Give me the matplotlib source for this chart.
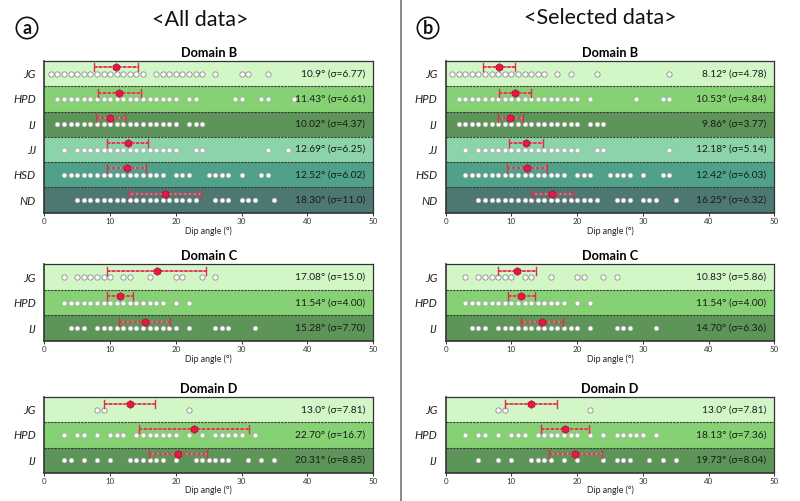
import matplotlib
matplotlib.use("Agg")
import matplotlib.pyplot as plt
import numpy as np

plt.rcParams['font.family'] = ['Lato', 'DejaVu Sans']

# ---------------- data ----------------
rows_B = ["JG", "HPD", "IJ", "JJ", "HSD", "ND"]
rows_CD = ["JG", "HPD", "IJ"]

# Domain B - all data
B_all_JG = list(range(1, 16)) + list(range(17, 25)) + [26, 30, 31, 34]
B_all_HPD = list(range(2, 21)) + [22, 23, 29, 30, 33, 34, 38]
B_all_IJ = list(range(2, 21)) + [22, 23, 24]
B_all_JJ = [3] + list(range(5, 21)) + [23, 24, 34, 37]
B_all_HSD = list(range(3, 19)) + [20, 21, 22, 25, 26, 27, 28, 30, 33, 34]
B_all_ND = list(range(5, 24)) + [26, 27, 28, 30, 31, 32, 35]
B_all_mean = [10.9, 11.43, 10.02, 12.69, 12.52, 18.30]
B_all_sigma = [6.77, 6.61, 4.37, 6.25, 6.02, 11.0]
B_all_text = ["10.9° (σ=6.77)", "11.43° (σ=6.61)", "10.02° (σ=4.37)",
              "12.69° (σ=6.25)", "12.52° (σ=6.02)", "18.30° (σ=11.0)"]

# Domain B - selected data
B_sel_JG = list(range(1, 16)) + [17, 19, 23, 34]
B_sel_HPD = list(range(2, 21)) + [22, 29, 33, 34]
B_sel_IJ = list(range(2, 21)) + [22, 23, 24]
B_sel_JJ = [3] + list(range(5, 21)) + [23, 24, 34]
B_sel_HSD = list(range(3, 19)) + [20, 21, 22, 25, 26, 27, 28, 30, 33, 34]
B_sel_ND = list(range(5, 24)) + [26, 27, 28, 30, 31, 32, 35]
B_sel_mean = [8.12, 10.53, 9.86, 12.18, 12.42, 16.25]
B_sel_sigma = [4.78, 4.84, 3.77, 5.14, 6.03, 6.32]
B_sel_text = ["8.12° (σ=4.78)", "10.53° (σ=4.84)", "9.86° (σ=3.77)",
              "12.18° (σ=5.14)", "12.42° (σ=6.03)", "16.25° (σ=6.32)"]

# Domain C
C_all_JG = [3, 5, 6, 7, 8, 9, 10, 12, 13, 16, 20, 21, 24, 26]
C_all_HPD = list(range(3, 19)) + [20, 22]
C_all_IJ = [4, 5, 6] + list(range(8, 21)) + [22, 26, 27, 28, 32]
C_all_mean = [17.08, 11.54, 15.28]
C_all_sigma = [15.0, 4.00, 7.70]
C_all_text = ["17.08° (σ=15.0)", "11.54° (σ=4.00)", "15.28° (σ=7.70)"]

C_sel_JG = [3, 5, 6, 7, 8, 9, 10, 12, 13, 16, 20, 21, 24, 26]
C_sel_HPD = list(range(3, 19)) + [20, 22]
C_sel_IJ = [4, 5, 6] + list(range(8, 21)) + [22, 26, 27, 28, 32]
C_sel_mean = [10.83, 11.54, 14.70]
C_sel_sigma = [5.86, 4.00, 6.36]
C_sel_text = ["10.83° (σ=5.86)", "11.54° (σ=4.00)", "14.70° (σ=6.36)"]

# Domain D
D_all_JG = [8, 9, 22]
D_all_HPD = [3, 5, 6, 8, 10, 11, 12, 14, 15, 16, 17, 18, 19, 20, 22, 24,
             26, 27, 28, 29, 30, 32]
D_all_IJ = [3, 4, 6, 8, 10, 13, 14, 15, 16, 17, 18, 20, 23, 24, 25, 26,
            27, 28, 31, 33, 35]
D_all_mean = [13.0, 22.70, 20.31]
D_all_sigma = [7.81, 16.7, 8.85]
D_all_text = ["13.0° (σ=7.81)", "22.70° (σ=16.7)", "20.31° (σ=8.85)"]

D_sel_JG = [8, 9, 22]
D_sel_HPD = [3, 5, 6, 8, 10, 11, 12, 14, 15, 16, 17, 18, 19, 20, 22, 24,
             26, 27, 28, 29, 30, 32]
D_sel_IJ = [5, 8, 10, 13, 14, 15, 16, 18, 20, 24, 26, 27, 28, 31, 33, 35]
D_sel_mean = [13.0, 18.13, 19.73]
D_sel_sigma = [7.81, 7.36, 8.04]
D_sel_text = ["13.0° (σ=7.81)", "18.13° (σ=7.36)", "19.73° (σ=8.04)"]

x_ticks = [0, 10, 20, 30, 40, 50]
row_colors = {"JG": "#d2f6c6", "HPD": "#87d175", "IJ": "#5c9557",
              "JJ": "#8cd3a9", "HSD": "#4fa18a", "ND": "#4c7772"}

# ---------------- drawing ----------------
fig = plt.figure(figsize=(8, 5.01), dpi=100)


def draw(rect, title, rows, points, means, sigmas, texts):
    ax = fig.add_axes(rect)
    n = len(rows)
    ax.set_xlim(0, 50)
    ax.set_ylim(n, 0)
    for i, r in enumerate(rows):
        ax.axhspan(i, i + 1, color=row_colors[r], zorder=0, lw=0)
        if i > 0:
            ax.axhline(i, color="#3a3a3a", lw=0.8, ls=(0, (2, 1)), zorder=1)
        pts = points[i]
        if r == "JG":
            ax.plot(pts, [i + 0.5] * len(pts), "o", ms=3.8, mfc="white",
                    mec="#8a8a8a", mew=0.6, zorder=3)
        else:
            ax.plot(pts, [i + 0.5] * len(pts), "o", ms=3.5, mfc="white",
                    mec="#a0a0a0", mew=0.4, zorder=3)
        m = means[i]
        h = sigmas[i] / 2.0
        yb = i + 0.25
        ax.plot([m - h, m + h], [yb, yb], color="#f28a9a", lw=1.2,
                solid_capstyle="butt", snap=True, zorder=4)
        ax.plot([m - h, m + h], [yb, yb], color="#dc2f4c", lw=1.2,
                ls=(0, (2.0, 0.9)), snap=True, zorder=4)
        for xc in (m - h, m + h):
            ax.plot([xc, xc], [yb - 0.16, yb + 0.16], color="#dc2f4c",
                    lw=1.0, snap=True, zorder=4)
        ax.plot([m], [yb], marker="h", ms=5.5, mfc="#e8174a", mec="#b0102f",
                mew=0.6, zorder=5)
        ax.text(48.8, i + 0.5, texts[i], ha="right", va="center",
                fontsize=7.3, color="#1a1a1a", zorder=6)
    ax.set_yticks([i + 0.5 for i in range(n)])
    ax.set_yticklabels(rows, fontstyle="italic", fontsize=8.3, color="#222222")
    ax.tick_params(axis="y", length=0, pad=6)
    ax.set_xticks(x_ticks)
    ax.set_xticklabels([str(t) for t in x_ticks], fontsize=5.8, color="#333333")
    ax.tick_params(axis="x", length=2.5, width=0.7, pad=1, color="#333333")
    ax.set_xlabel("Dip angle (°)", fontsize=6.3, labelpad=1, color="#222222")
    ax.set_title(title, fontsize=9.2, fontweight="bold", pad=3)
    for s in ax.spines.values():
        s.set_color("#333333")
        s.set_linewidth(0.9)
    ax.spines["left"].set_linewidth(1.2)
    ax.spines["bottom"].set_linewidth(1.2)
    return ax


lefts = [0.0554, 0.557]
w = 0.411
rectB = (0.5754, 0.3028)
rectC = (0.3194, 0.153)
rectD = (0.0565, 0.1505)

draw([lefts[0], rectB[0], w, rectB[1]], "Domain B", rows_B,
     [B_all_JG, B_all_HPD, B_all_IJ, B_all_JJ, B_all_HSD, B_all_ND],
     B_all_mean, B_all_sigma, B_all_text)
draw([lefts[1], rectB[0], w, rectB[1]], "Domain B", rows_B,
     [B_sel_JG, B_sel_HPD, B_sel_IJ, B_sel_JJ, B_sel_HSD, B_sel_ND],
     B_sel_mean, B_sel_sigma, B_sel_text)
draw([lefts[0], rectC[0], w, rectC[1]], "Domain C", rows_CD,
     [C_all_JG, C_all_HPD, C_all_IJ], C_all_mean, C_all_sigma, C_all_text)
draw([lefts[1], rectC[0], w, rectC[1]], "Domain C", rows_CD,
     [C_sel_JG, C_sel_HPD, C_sel_IJ], C_sel_mean, C_sel_sigma, C_sel_text)
draw([lefts[0], rectD[0], w, rectD[1]], "Domain D", rows_CD,
     [D_all_JG, D_all_HPD, D_all_IJ], D_all_mean, D_all_sigma, D_all_text)
draw([lefts[1], rectD[0], w, rectD[1]], "Domain D", rows_CD,
     [D_sel_JG, D_sel_HPD, D_sel_IJ], D_sel_mean, D_sel_sigma, D_sel_text)

# panel headers
fig.text(200 / 800, 1 - 20 / 501, "<All data>", ha="center", va="center",
         fontsize=15.5, color="#111111")
fig.text(600 / 800, 1 - 18 / 501, "<Selected data>", ha="center", va="center",
         fontsize=15.5, color="#111111")
for xp, yp, lab in [(27, 28, "a"), (428, 28, "b")]:
    fig.text(xp / 800, 1 - yp / 501, lab, ha="center", va="center",
             fontsize=13, fontweight="bold", color="#111111",
             bbox=dict(boxstyle="circle,pad=0.12", fc="white", ec="#111111",
                       lw=1.2))

# divider
fig.add_artist(plt.Line2D([401 / 800, 401 / 800], [0, 1], color="#808080",
                          lw=1.3, transform=fig.transFigure))

fig.savefig("out.png", dpi=100)
